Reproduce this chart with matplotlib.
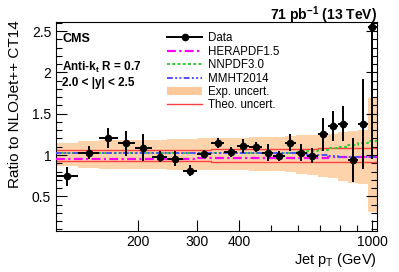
import numpy as np
import matplotlib
matplotlib.use("Agg")
import matplotlib.pyplot as plt
from matplotlib.patches import Patch
from matplotlib.lines import Line2D
from matplotlib.ticker import FixedLocator, NullFormatter, MultipleLocator

plt.rcParams['font.family'] = ['Liberation Sans', 'DejaVu Sans']

# bin edges in jet pT (GeV)
edges = [114, 133, 153, 174, 196, 220, 245, 272, 300, 330, 362, 395, 430,
         468, 507, 548, 592, 638, 686, 737, 790, 846, 905, 967, 1032]

# data / NLOJet++ CT14
data = [0.74, 1.03, 1.21, 1.14, 1.09, 0.98, 0.955, 0.81, 1.01, 1.14, 1.035, 1.11,
        1.10, 1.03, 0.99, 1.15, 1.03, 0.99, 1.25, 1.355, 1.38, 0.94, 1.375, 2.55]
data_err = [0.12, 0.08, 0.12, 0.15, 0.16, 0.07, 0.09, 0.07, 0.05, 0.06, 0.065, 0.08,
            0.06, 0.10, 0.06, 0.10, 0.10, 0.09, 0.20, 0.18, 0.21, 0.27, 0.54, 1.6]

# experimental uncertainty band
exp_lo = [0.87, 0.84, 0.83, 0.83, 0.83, 0.83, 0.82, 0.82, 0.82, 0.82, 0.82, 0.82,
          0.81, 0.81, 0.81, 0.80, 0.77, 0.76, 0.73, 0.72, 0.68, 0.66, 0.65, 0.31]
exp_hi = [1.14, 1.17, 1.18, 1.18, 1.18, 1.18, 1.19, 1.19, 1.20, 1.20, 1.21, 1.21,
          1.22, 1.22, 1.22, 1.23, 1.24, 1.24, 1.25, 1.26, 1.28, 1.29, 1.30, 1.69]

# theory uncertainty
theo_hi = [1.06, 1.06, 1.06, 1.06, 1.06, 1.06, 1.065, 1.065, 1.065, 1.07, 1.07, 1.07,
           1.07, 1.07, 1.075, 1.075, 1.075, 1.075, 1.08, 1.08, 1.08, 1.08, 1.08, 1.08]
theo_lo = [0.93, 0.93, 0.93, 0.93, 0.93, 0.925, 0.925, 0.925, 0.925, 0.92, 0.92, 0.92,
           0.92, 0.92, 0.915, 0.915, 0.915, 0.915, 0.91, 0.91, 0.91, 0.91, 0.91, 0.91]

# other PDF sets / CT14
hera = [0.955, 0.955, 0.955, 0.955, 0.955, 0.955, 0.955, 0.955, 0.96, 0.96, 0.96, 0.96,
        0.96, 0.96, 0.96, 0.96, 0.965, 0.965, 0.965, 0.97, 0.97, 0.97, 0.97, 0.97]
nnpdf = [1.02, 1.02, 1.02, 1.02, 1.02, 1.02, 1.02, 1.02, 1.02, 1.02, 1.02, 1.02,
         1.02, 1.02, 1.02, 1.03, 1.04, 1.05, 1.06, 1.08, 1.10, 1.12, 1.15, 1.17]
mmht = [1.025, 1.025, 1.025, 1.025, 1.025, 1.025, 1.025, 1.025, 1.025, 1.025, 1.02, 1.02,
        1.02, 1.02, 1.02, 1.02, 1.01, 1.0, 1.0, 0.99, 0.98, 0.975, 0.97, 0.97]

edges = np.array(edges, dtype=float)
centers = np.sqrt(edges[:-1] * edges[1:])
xerr = [centers - edges[:-1], edges[1:] - centers]


def stepvals(v):
    return np.append(v, v[-1])


fig = plt.figure(figsize=(3.99, 2.72), dpi=100)
ax = fig.add_axes([0.1404, 0.1507, 0.8045, 0.7683])

ax.fill_between(edges, stepvals(exp_lo), stepvals(exp_hi), step='post',
                color='#fdd3ab', lw=0, zorder=1)
ax.step(edges, stepvals(theo_hi), where='post', color='#ff4040', lw=1.0, zorder=2)
ax.step(edges, stepvals(theo_lo), where='post', color='#ff4040', lw=1.0, zorder=2)
ax.step(edges, stepvals(hera), where='post', color='#ff00ff', lw=1.6,
        ls=(0, (4, 1.5, 1, 1.5)), zorder=3)
ax.step(edges, stepvals(nnpdf), where='post', color='#33cc33', lw=1.4,
        ls=(0, (1.5, 1.2)), zorder=3)
ax.step(edges, stepvals(mmht), where='post', color='#5050ff', lw=1.4,
        ls=(0, (3, 1.2, 1, 1.2, 1, 1.2)), zorder=3)
ax.errorbar(centers, data, yerr=data_err, xerr=xerr, fmt='o', color='black',
            ms=4.5, elinewidth=1.4, capsize=0, zorder=5)

ax.set_xscale('log')
ax.set_xlim(114, 1032)
ax.set_ylim(0.08, 2.61)

ax.xaxis.set_major_locator(FixedLocator([200, 300, 400, 1000]))
ax.xaxis.set_minor_locator(FixedLocator([500, 600, 700, 800, 900]))
ax.xaxis.set_major_formatter(matplotlib.ticker.FixedFormatter(['200', '300', '400', '1000']))
ax.xaxis.set_minor_formatter(NullFormatter())
ax.yaxis.set_major_locator(MultipleLocator(0.5))
ax.yaxis.set_minor_locator(MultipleLocator(0.1))
ax.yaxis.set_major_formatter(matplotlib.ticker.FuncFormatter(lambda v, p: '%g' % v))

ax.tick_params(which='both', direction='in', top=False, right=True, labelsize=10, width=0.8)
ax.tick_params(which='major', length=8)
ax.tick_params(which='minor', length=4)
ax.tick_params(axis='x', pad=3)
for s in ax.spines.values():
    s.set_linewidth(0.8)

fig.text(0.038, 0.926, 'Ratio to NLOJet++ CT14', rotation=90, ha='center', va='top', fontsize=11)
fig.text(0.945, 0.045, 'Jet p$_\\mathregular{T}$ (GeV)', ha='right', va='center', fontsize=10.5)
fig.text(0.945, 0.985, '71 pb$^\\mathregular{-1}$ (13 TeV)', ha='right', va='top',
         fontsize=10, fontweight='bold')

ax.text(0.02, 0.919, 'CMS', transform=ax.transAxes, fontsize=9, fontweight='bold', va='center')
ax.text(0.02, 0.785, 'Anti-k$_\\mathregular{t}$ R = 0.7', transform=ax.transAxes,
        fontsize=8.5, fontweight='bold', va='center')
ax.text(0.02, 0.708, '2.0 < |y| < 2.5', transform=ax.transAxes, fontsize=8.5,
        fontweight='bold', va='center')

handles = [
    Line2D([], [], color='black', marker='o', ms=4.5, lw=1.4),
    Line2D([], [], color='#ff00ff', lw=1.6, ls=(0, (4, 1.5, 1, 1.5))),
    Line2D([], [], color='#33cc33', lw=1.4, ls=(0, (1.5, 1.2))),
    Line2D([], [], color='#5050ff', lw=1.4, ls=(0, (3, 1.2, 1, 1.2, 1, 1.2))),
    Patch(facecolor='#fdc99a', edgecolor='none'),
    Line2D([], [], color='#ff4040', lw=1.0),
]
labels = ['Data', 'HERAPDF1.5', 'NNPDF3.0', 'MMHT2014', 'Exp. uncert.', 'Theo. uncert.']
ax.legend(handles, labels, loc='upper left', bbox_to_anchor=(0.345, 0.95), frameon=False,
          fontsize=8.3, handlelength=3.1, handletextpad=0.45, labelspacing=0.12,
          borderpad=0, borderaxespad=0)

fig.savefig('out.png', dpi=100)
